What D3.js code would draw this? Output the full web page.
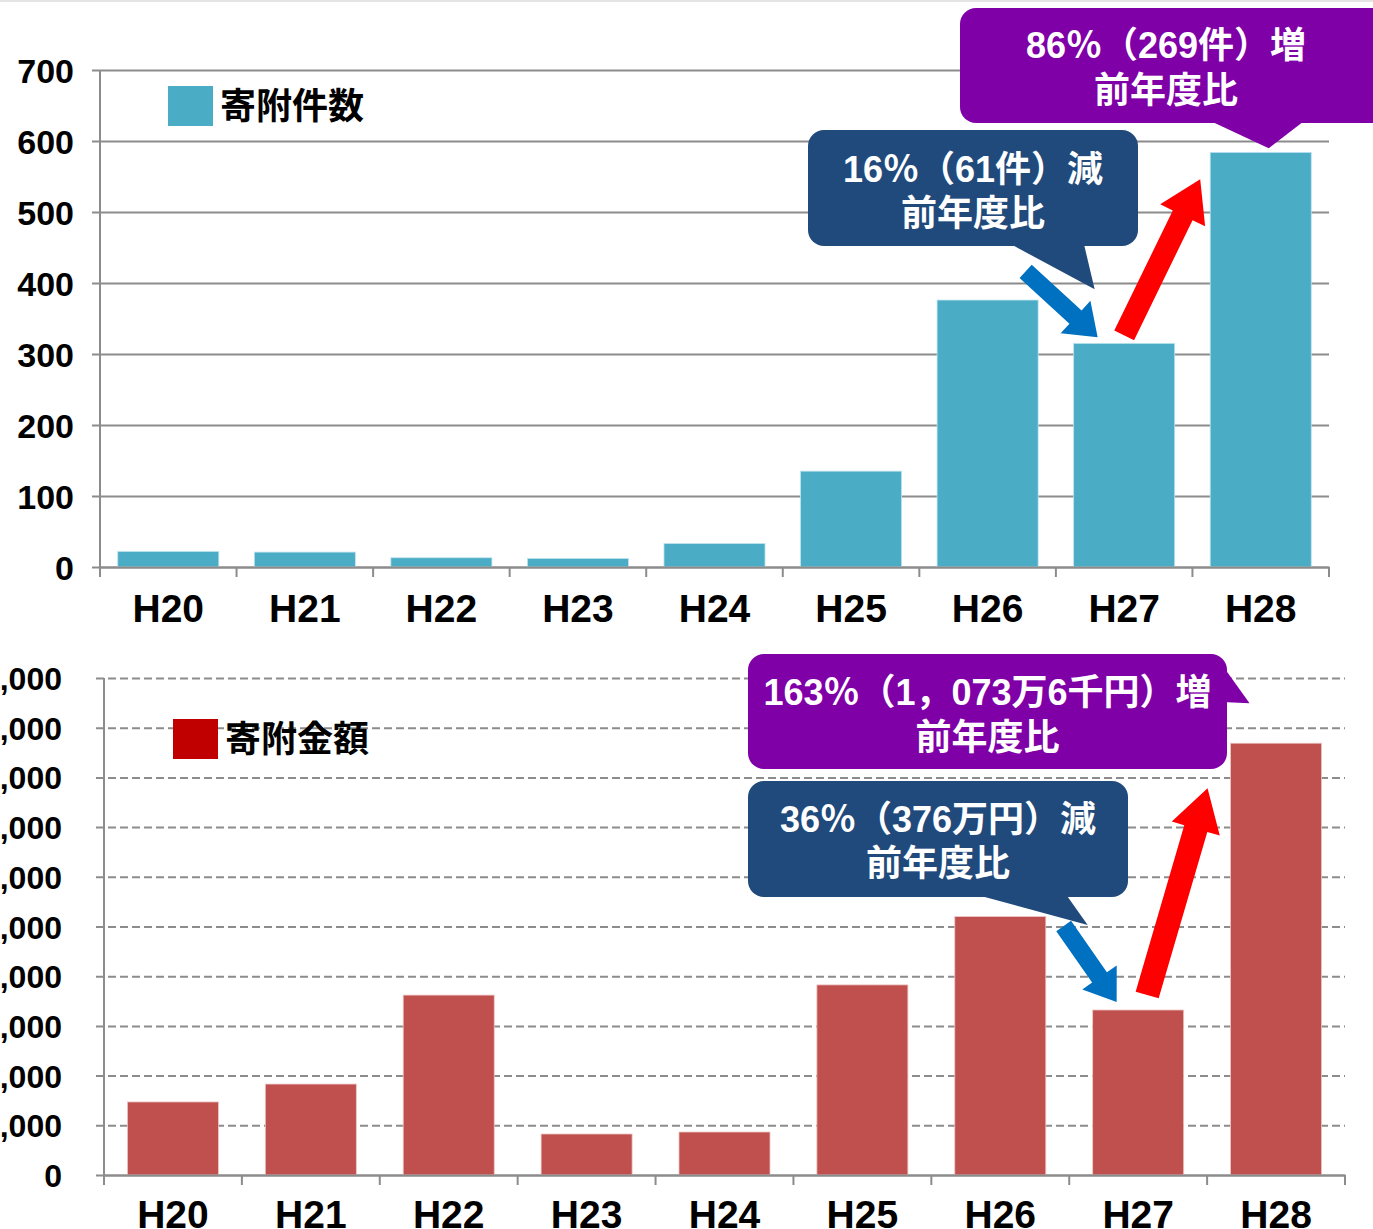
<!DOCTYPE html>
<html>
<head>
<meta charset="utf-8">
<script src="https://cdn.jsdelivr.net/npm/d3@7"></script>
<style>
  html, body { margin: 0; padding: 0; background: #fff; overflow: hidden; }
  svg { display: block; }
  .num { font-family: "Liberation Sans", Arial, "Noto Sans CJK JP", sans-serif; font-weight: bold; }
  .jp { font-family: "Liberation Sans", Arial, "Noto Sans CJK JP", sans-serif; font-weight: bold; }
</style>
</head>
<body>
<div id="chart"></div>
<script>
// data
const years = ["H20", "H21", "H22", "H23", "H24", "H25", "H26", "H27", "H28"]
const counts = [22, 21, 13, 12, 33, 135, 376, 315, 584]          // 寄附件数
const amounts = [2940, 3660, 7240, 1650, 1730, 7650, 10400, 6640, 17376] // 寄附金額 (千円)
const countTicks = [0, 100, 200, 300, 400, 500, 600, 700]
const amountTicks = [0, 2000, 4000, 6000, 8000, 10000, 12000, 14000, 16000, 18000, 20000]

const W = 1373, H = 1229

const svg = d3.select("#chart").append("svg")
  .attr("width", W)
  .attr("height", H)

// faint border at top
svg.append("line")
  .attr("x1", 0).attr("x2", W).attr("y1", 1).attr("y2", 1)
  .attr("stroke", "#e4e4e4").attr("stroke-width", 2)

function arrow(g, x1, y1, x2, y2, shaftW, headW, headL, color) {
  const dx = x2 - x1, dy = y2 - y1
  const len = Math.sqrt(dx * dx + dy * dy)
  const ux = dx / len, uy = dy / len
  const nx = -uy, ny = ux
  const bx = x2 - ux * headL, by = y2 - uy * headL
  const pts = [
    [x1 + nx * shaftW / 2, y1 + ny * shaftW / 2],
    [bx + nx * shaftW / 2, by + ny * shaftW / 2],
    [bx + nx * headW / 2, by + ny * headW / 2],
    [x2, y2],
    [bx - nx * headW / 2, by - ny * headW / 2],
    [bx - nx * shaftW / 2, by - ny * shaftW / 2],
    [x1 - nx * shaftW / 2, y1 - ny * shaftW / 2]
  ]
  g.append("polygon").attr("points", pts.map(p => p.join(",")).join(" ")).attr("fill", color)
}

function callout(g, box, pointer, fill, lines) {
  g.append("rect")
    .attr("x", box.x).attr("y", box.y)
    .attr("width", box.w).attr("height", box.h)
    .attr("rx", 16).attr("ry", 16)
    .attr("fill", fill)
  g.append("polygon")
    .attr("points", pointer.map(p => p.join(",")).join(" "))
    .attr("fill", fill)
  lines.forEach(t => {
    g.append("text")
      .attr("class", "jp")
      .attr("x", box.x + box.w / 2 + (t.dx || 0))
      .attr("y", t.y)
      .attr("text-anchor", "middle")
      .attr("font-size", 36)
      .attr("fill", "#fff")
      .text(t.text)
  })
}

// ---------------- top chart : 寄附件数 ----------------
const x1 = d3.scaleBand().domain(years).range([100, 1329]).paddingInner(0.26).paddingOuter(0.13)
const y1 = d3.scaleLinear().domain([0, 700]).range([567, 70])

const gTop = svg.append("g")

gTop.append("g")
  .attr("transform", "translate(100,0)")
  .call(d3.axisLeft(y1).tickValues(countTicks).tickSize(-1229).tickSizeOuter(0).tickPadding(26).tickFormat(d3.format("d")))
  .call(g => g.select(".domain").remove())
  .call(g => g.selectAll(".tick line")
    .attr("x1", -8)
    .attr("stroke", "#8c8c8c").attr("stroke-width", 2))
  .call(g => g.selectAll(".tick text")
    .attr("class", "num").attr("font-size", 34).attr("fill", "#000").attr("dy", "0.36em"))

gTop.append("line")
  .attr("x1", 100).attr("x2", 100).attr("y1", 70).attr("y2", 577)
  .attr("stroke", "#8c8c8c").attr("stroke-width", 2)

gTop.selectAll("rect.bar")
  .data(counts)
  .join("rect")
  .attr("class", "bar")
  .attr("x", (d, i) => x1(years[i]))
  .attr("y", d => y1(d))
  .attr("width", x1.bandwidth())
  .attr("height", d => y1(0) - y1(d))
  .attr("fill", "#4bacc6")
  .attr("stroke", "#bfe3ee").attr("stroke-width", 0.8)

// x axis
gTop.append("g")
  .attr("transform", `translate(0,${y1(0)})`)
  .call(d3.axisBottom(x1).tickSize(0).tickPadding(0))
  .call(g => g.select(".domain").attr("stroke", "#8c8c8c").attr("stroke-width", 2))
  .call(g => g.selectAll(".tick text")
    .attr("class", "num").attr("font-size", 39).attr("fill", "#000").attr("dy", 0).attr("y", 55))

gTop.selectAll("line.xtick")
  .data(d3.range(years.length + 1))
  .join("line")
  .attr("class", "xtick")
  .attr("x1", i => 100 + i * x1.step()).attr("x2", i => 100 + i * x1.step())
  .attr("y1", y1(0)).attr("y2", y1(0) + 10)
  .attr("stroke", "#8c8c8c").attr("stroke-width", 2)

// legend
gTop.append("rect").attr("x", 168).attr("y", 86).attr("width", 45).attr("height", 40).attr("fill", "#4bacc6")
gTop.append("text").attr("class", "jp").attr("x", 220).attr("y", 119).attr("font-size", 36).attr("fill", "#000").text("寄附件数")

// annotations top
const c27 = x1("H27") + x1.bandwidth() / 2
arrow(gTop, x1("H27") - 48, y1(315) - 72, x1("H27") + 24, y1(315) - 6, 18, 44, 30, "#0070c0")
arrow(gTop, c27, y1(315) - 8, x1("H28") - 10, y1(584) + 27, 22, 50, 40, "#ff0000")

callout(gTop, { x: 808, y: 130, w: 330, h: 116 },
  [[1003, 240], [x1("H27") + 21, y1(315) - 54], [1083, 240]],
  "#214a7c",
  [{ text: "16％（61件）減", y: 182 }, { text: "前年度比", y: 226 }])

callout(gTop, { x: 960, y: 8, w: 430, h: 115 },
  [[1204, 118], [x1("H28") + x1.bandwidth() / 2 + 8, y1(584) - 4], [1308, 118]],
  "#8000a8",
  [{ text: "86％（269件）増", y: 58, dx: -9 }, { text: "前年度比", y: 103, dx: -9 }])

// ---------------- bottom chart : 寄附金額 ----------------
const x2 = d3.scaleBand().domain(years).range([104, 1345]).paddingInner(0.34).paddingOuter(0.17)
const y2 = d3.scaleLinear().domain([0, 20000]).range([1175, 678])

const gBot = svg.append("g")

// left labels run off the left edge, as in the source picture
gBot.append("g")
  .attr("transform", "translate(104,0)")
  .call(d3.axisLeft(y2).tickValues(amountTicks).tickSize(-1241).tickSizeOuter(0).tickPadding(42).tickFormat(d3.format(",")))
  .call(g => g.select(".domain").remove())
  .call(g => g.selectAll(".tick line")
    .attr("x1", -8)
    .attr("stroke", "#8c8c8c").attr("stroke-width", 2)
    .attr("stroke-dasharray", d => d === 0 ? null : "8,4"))
  .call(g => g.selectAll(".tick text")
    .attr("class", "num").attr("font-size", 32).attr("fill", "#000").attr("dy", "0.36em"))

gBot.append("line")
  .attr("x1", 104).attr("x2", 104).attr("y1", 678).attr("y2", 1185)
  .attr("stroke", "#8c8c8c").attr("stroke-width", 2)

gBot.selectAll("rect.bar")
  .data(amounts)
  .join("rect")
  .attr("class", "bar")
  .attr("x", (d, i) => x2(years[i]))
  .attr("y", d => y2(d))
  .attr("width", x2.bandwidth())
  .attr("height", d => y2(0) - y2(d))
  .attr("fill", "#c0504d")
  .attr("stroke", "#ecc6c5").attr("stroke-width", 0.8)

gBot.append("g")
  .attr("transform", `translate(0,${y2(0)})`)
  .call(d3.axisBottom(x2).tickSize(0).tickPadding(0))
  .call(g => g.select(".domain").attr("stroke", "#8c8c8c").attr("stroke-width", 2))
  .call(g => g.selectAll(".tick text")
    .attr("class", "num").attr("font-size", 39).attr("fill", "#000").attr("dy", 0).attr("y", 53))

gBot.selectAll("line.xtick")
  .data(d3.range(years.length + 1))
  .join("line")
  .attr("class", "xtick")
  .attr("x1", i => 104 + i * x2.step()).attr("x2", i => 104 + i * x2.step())
  .attr("y1", y2(0)).attr("y2", y2(0) + 10)
  .attr("stroke", "#8c8c8c").attr("stroke-width", 2)

gBot.append("rect").attr("x", 173).attr("y", 719).attr("width", 45).attr("height", 40).attr("fill", "#c00000")
gBot.append("text").attr("class", "jp").attr("x", 225).attr("y", 752).attr("font-size", 36).attr("fill", "#000").text("寄附金額")

// annotations bottom
const d27 = x2("H27") + x2.bandwidth() / 2
arrow(gBot, x2("H27") - 29, y2(6640) - 84, x2("H27") + 24, y2(6640) - 8, 18, 42, 30, "#0070c0")
arrow(gBot, d27 + 9, y2(6640) - 15, x2("H28") - 23, y2(17376) + 45, 24, 50, 42, "#ff0000")

callout(gBot, { x: 748, y: 781, w: 380, h: 116 },
  [[970, 893], [x2("H27") - 5, y2(6640) - 85], [1065, 893]],
  "#214a7c",
  [{ text: "36％（376万円）減", y: 832 }, { text: "前年度比", y: 876 }])

callout(gBot, { x: 748, y: 654, w: 479, h: 115 },
  [[1220, 662], [x2("H28") + 19, y2(17376) - 40], [1222, 702]],
  "#8000a8",
  [{ text: "163％（1，073万6千円）増", y: 705 }, { text: "前年度比", y: 750 }])
</script>
</body>
</html>
